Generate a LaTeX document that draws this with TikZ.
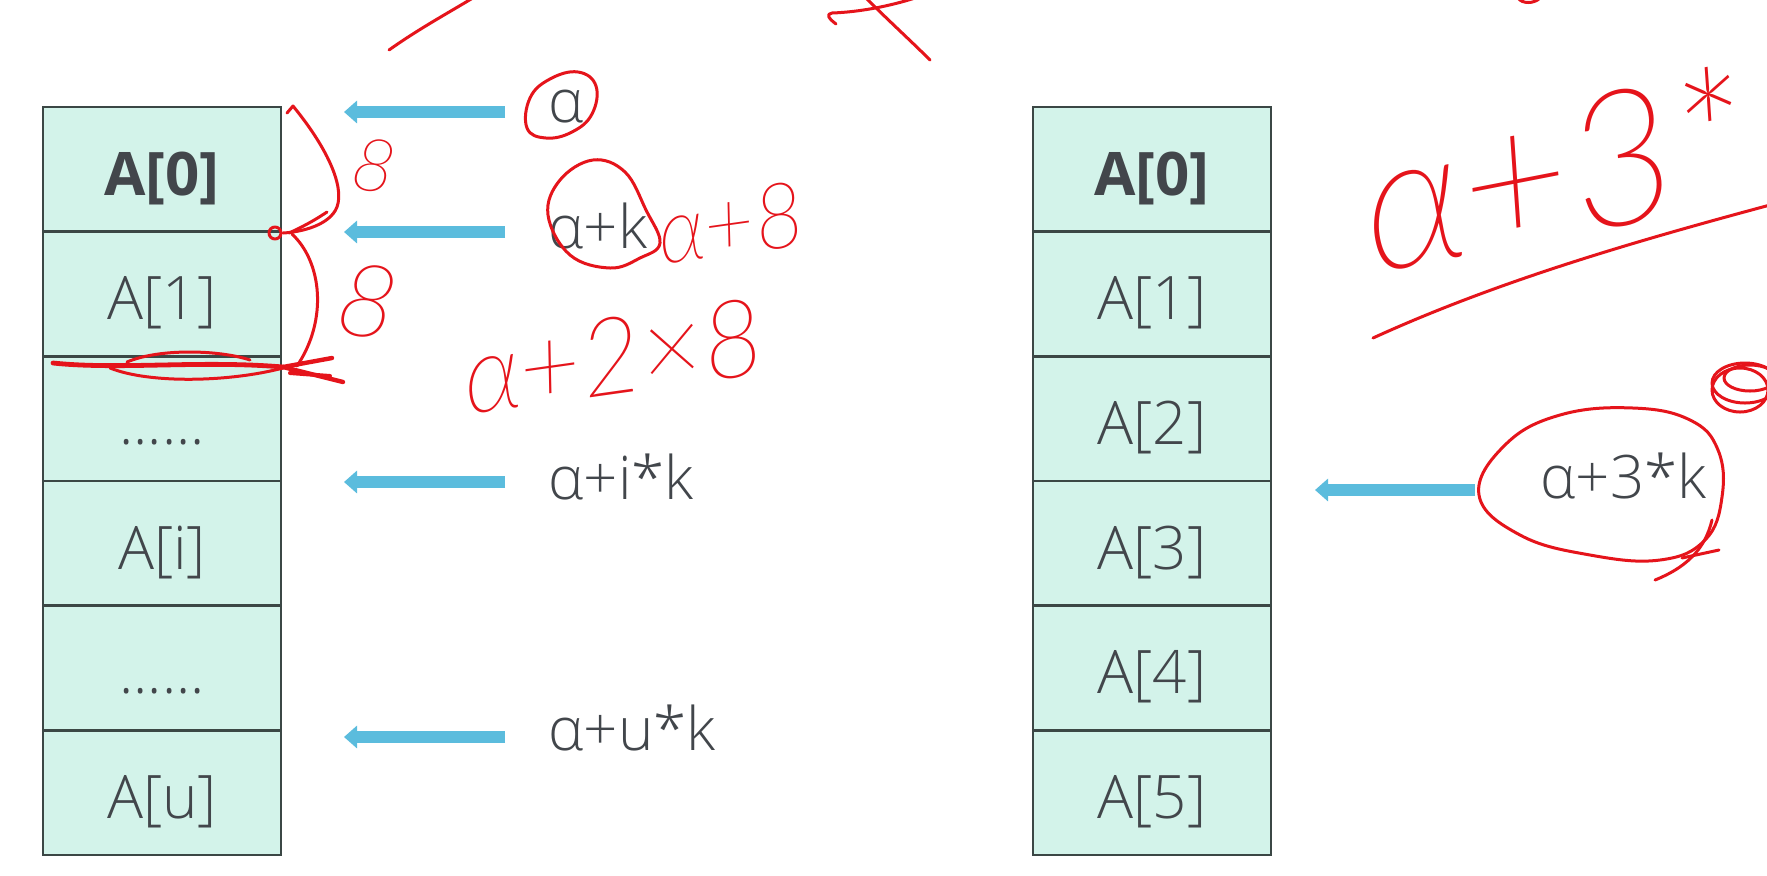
\documentclass[tikz,border=0pt]{standalone}
\usepackage{graphicx}
\usepackage{fontspec}
\IfFontExistsTF{Open Sans Light}
  {\setmainfont{Open Sans Light}[BoldFont={Open Sans Bold}]}
  {\setmainfont{Open Sans}}
\IfFontExistsTF{Lato Thin Italic}
  {\newfontfamily\handfont{Lato Thin Italic}\newcommand\handshape{}}
  {\IfFontExistsTF{Lato Light Italic}
    {\newfontfamily\handfont{Lato Light Italic}\newcommand\handshape{}}
    {\newfontfamily\handfont{Liberation Serif}\newcommand\handshape{\itshape}}}
\usetikzlibrary{arrows.meta}
\definecolor{cellfill}{HTML}{D3F3EA}
\definecolor{cellline}{HTML}{3B4745}
\definecolor{txt}{HTML}{42464B}
\definecolor{arrowblue}{HTML}{5BBCDD}
\definecolor{pen}{HTML}{E5141B}
\tikzset{
  cellbox/.style={draw=cellline, line width=1.2pt, fill=cellfill, minimum width=119pt,
    minimum height=62.33pt, inner sep=0pt, text height=25.7pt, text depth=0pt,
    text=txt, font=\fontsize{30}{36}\selectfont},
  lab/.style={inner sep=0pt, text=txt, font=\fontsize{30}{36}\selectfont, anchor=base west},
  bluearrow/.style={draw=arrowblue, line width=5.8pt, -{Triangle[length=6.5pt,width=11pt]}},
  redpen/.style={draw=pen, line width=1.5pt, line cap=round, line join=round},
  hand/.style={inner sep=0pt, text=pen}
}
\begin{document}
\begin{tikzpicture}[x=0.5pt,y=-0.5pt]
\fill[white] (0,0) rectangle (1767,875);
\useasboundingbox (0,0) rectangle (1767,875);
\clip (0,0) rectangle (1767,875);

% left column
\node[cellbox] (L0) at (162,169.3) {\bfseries A[0]};
\node[cellbox] (L1) at (162,294.0) {A[1]};
\node[cellbox] (L2) at (162,418.7) {......};
\node[cellbox] (L3) at (162,543.3) {A[i]};
\node[cellbox] (L4) at (162,668.0) {......};
\node[cellbox] (L5) at (162,792.7) {A[u]};

% right column
\node[cellbox] (R0) at (1152,169.3) {\bfseries A[0]};
\node[cellbox] (R1) at (1152,294.0) {A[1]};
\node[cellbox] (R2) at (1152,418.7) {A[2]};
\node[cellbox] (R3) at (1152,543.3) {A[3]};
\node[cellbox] (R4) at (1152,668.0) {A[4]};
\node[cellbox] (R5) at (1152,792.7) {A[5]};

% labels
\node[lab] (a0) at (548,122) {α};
\node[lab] (a1) at (548,248) {α+k};
\node[lab] (a2) at (548,499) {α+i*k};
\node[lab] (a3) at (548,750) {α+u*k};
\node[lab] (b3) at (1540,498) {α+3*k};

% arrows
\coordinate (s0) at (505,112); \coordinate (t0) at (344,112);
\coordinate (s1) at (505,232); \coordinate (t1) at (344,232);
\coordinate (s2) at (505,482); \coordinate (t2) at (344,482);
\coordinate (s3) at (505,737); \coordinate (t3) at (344,737);
\coordinate (s4) at (1475,490); \coordinate (t4) at (1315,490);
\draw[bluearrow] (s0) -- (t0);
\draw[bluearrow] (s1) -- (t1);
\draw[bluearrow] (s2) -- (t2);
\draw[bluearrow] (s3) -- (t3);
\draw[bluearrow] (s4) -- (t4);

% ---- red handwriting ----
% top strokes
\draw[redpen] (389,50) .. controls (420,28) and (450,12) .. (476,-4);
\draw[redpen] (836,24) .. controls (828,18) and (826,14) .. (832,13) .. controls (860,12) and (890,6) .. (915,-2);
\draw[redpen] (866,-2) .. controls (890,22) and (910,40) .. (930,60);
\draw[redpen] (1518,-2) .. controls (1522,4) and (1534,4) .. (1540,-2);
% circle round alpha
\draw[redpen] plot[smooth cycle, tension=0.7] coordinates {(527,128) (530,98) (550,79) (578,72) (596,86) (592,114) (572,132) (546,138)};
% blob round alpha+k
\draw[redpen] plot[smooth cycle, tension=0.65] coordinates {(548,215) (560,180) (593,160) (625,172) (646,210) (660,243) (640,258) (610,268) (570,255)};
% braces
\draw[redpen] (287,113) -- (293,106) .. controls (325,145) and (345,185) .. (337,207)
  .. controls (330,225) and (302,232) .. (283,233);
\draw[redpen] (327,212) .. controls (312,222) and (300,228) .. (289,233);
\draw[redpen] (275,233) circle[radius=6];
\draw[redpen] (292,234) .. controls (322,262) and (328,320) .. (297,366);
% scribble over line
\draw[redpen, line width=2.4pt] (53,363) .. controls (120,370) and (200,360) .. (283,367);
\draw[redpen] (110,368) .. controls (150,384) and (230,382) .. (283,368);
\draw[redpen] (127,362) .. controls (160,348) and (220,350) .. (250,360);
\draw[redpen, line width=2.2pt] (283,367) -- (332,358);
\draw[redpen, line width=2.2pt] (283,367) -- (343,382);
\draw[redpen, line width=2pt] (290,373) -- (330,376);
% handwritten 8s
\node[hand, font=\handfont\handshape\fontsize{37}{40}\selectfont, rotate=-10] (e1) at (374,166) {8};
\node[hand, font=\handfont\handshape\fontsize{51}{56}\selectfont, rotate=-10] (e2) at (368,301) {8};
% alpha+8 and alpha+2x8
\node[hand, font=\handfont\handshape\fontsize{45.5}{50}\selectfont, rotate=8, anchor=base west] (h1) at (662,265) {\scalebox{0.95}[1]{α+8}};
\node[hand, font=\handfont\handshape\fontsize{54}{60}\selectfont, rotate=8, anchor=base west] (h2) at (468,415) {\scalebox{0.98}[1]{α+2×8}};
% right side
\node[hand, font=\handfont\handshape\fontsize{94}{100}\selectfont, rotate=11, anchor=base west] (h3) at (1374,274) {\scalebox{1.0}[1]{α+3*}};
\draw[redpen] (1373,338) .. controls (1500,280) and (1640,240) .. (1770,205);
\draw[redpen] (1745,383) ellipse[x radius=33, y radius=20];
\draw[redpen] (1750,378) ellipse[x radius=26, y radius=13];
\draw[redpen] (1740,390) ellipse[x radius=28, y radius=22];
% ellipse round alpha+3*k
\draw[redpen] plot[smooth cycle, tension=0.7] coordinates {(1479,495) (1505,445) (1560,415) (1633,408) (1690,420) (1718,450) (1722,497) (1705,540) (1660,560) (1590,555) (1520,535)};
\draw[redpen] (1712,520) .. controls (1705,550) and (1685,568) .. (1655,580);
\draw[redpen] (1682,558) -- (1719,550);
\end{tikzpicture}
\end{document}
